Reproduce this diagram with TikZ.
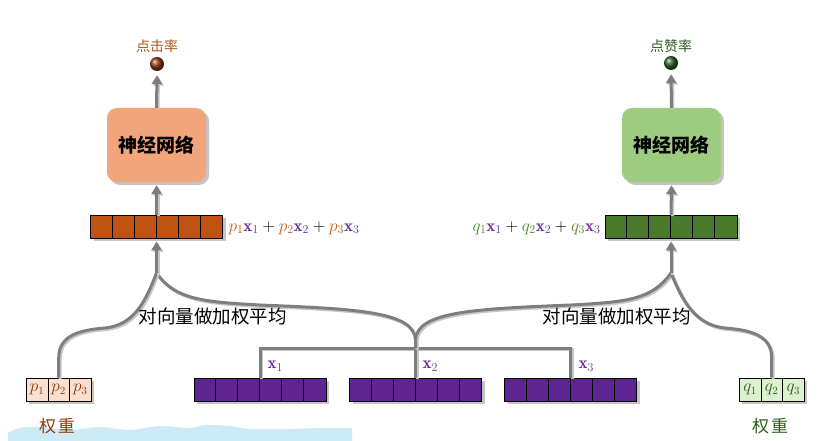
\documentclass[tikz,border=0pt]{standalone}
\usepackage{fontspec}
\newfontfamily\cjk{Noto Sans CJK SC}
\usetikzlibrary{arrows.meta,shadows,calc}
\definecolor{linegray}{HTML}{7E7E7E}
\definecolor{nnorange}{HTML}{F2A57A}
\definecolor{nngreen}{HTML}{9DCB80}
\definecolor{vorange}{HTML}{BF5310}
\definecolor{vgreen}{HTML}{4A7A2C}
\definecolor{vpurple}{HTML}{5E2590}
\definecolor{pcol}{HTML}{C0600F}
\definecolor{qcol}{HTML}{4E8A2E}
\definecolor{xcol}{HTML}{6A2A9A}
\definecolor{brownt}{HTML}{8B3A0E}
\definecolor{brownl}{HTML}{B0561A}
\definecolor{greent}{HTML}{2E5E1E}
\definecolor{pfill}{HTML}{FBE0D0}
\definecolor{qfill}{HTML}{DDF0D0}
\definecolor{cloud}{HTML}{CDEBF7}
\tikzset{
  gline/.style={draw=linegray, line width=3pt,
    preaction={draw=black!22, line width=3pt, transform canvas={shift={(1.5pt,-1.5pt)}}}},
  garrow/.style={gline, -{Triangle[length=9pt,width=10pt]}},
  shd/.style={drop shadow={shadow xshift=3pt,shadow yshift=-3pt,opacity=0.45}},
  nnbox/.style={shd, rounded corners=10pt, minimum width=99pt, minimum height=74pt,
    inner sep=0pt, font=\cjk\bfseries\fontsize{19}{21}\selectfont},
  vecbox/.style={shd, draw=black, line width=0.8pt, minimum width=132pt,
    minimum height=23pt, inner sep=0pt},
  wcell/.style={shd, draw=black, line width=0.6pt, minimum width=21.7pt,
    minimum height=23pt, inner sep=0pt, font=\fontsize{16}{18}\selectfont},
  cjklab/.style={font=\cjk\fontsize{#1}{#1}\selectfont},
  mathlab/.style={font=\fontsize{17}{19}\selectfont},
  ball/.style={circle, minimum size=14pt, inner sep=0pt, shading=ball}
}
\begin{document}
\begin{tikzpicture}[x=1pt,y=-1pt]
\useasboundingbox[fill=white] (0,0) rectangle (832,441);
% cloud
\fill[cloud] plot[smooth] coordinates {(8,433) (20,428) (40,427) (70,430) (100,427) (130,430) (160,426) (190,428) (205,425) (230,426) (250,429) (290,429) (320,428) (352,428)} -- (352,441) -- (8,441) -- cycle;

% top balls and labels
\node[ball, ball color=brownt] (c1) at (157,64) {};
\node[ball, ball color=greent] (c2) at (671,63) {};
\node[cjklab=14, text=brownl] (l1) at (157,46) {点击率};
\node[cjklab=14, text=greent] (l2) at (671,46) {点赞率};

% neural networks
\node[nnbox, fill=nnorange] (nn1) at (156.5,145) {神经网络};
\node[nnbox, fill=nngreen] (nn2) at (671.5,145) {神经网络};

% result vectors
\node[vecbox, fill=vorange] (v1) at (156.5,226.5) {};
\node[vecbox, fill=vgreen] (v2) at (671,226.5) {};
\node[anchor=west, mathlab] (f1) at (225,228)
  {$\textcolor{pcol}{p_1}\textcolor{xcol}{\mathbf{x}_1}+\textcolor{pcol}{p_2}\textcolor{xcol}{\mathbf{x}_2}+\textcolor{pcol}{p_3}\textcolor{xcol}{\mathbf{x}_3}$};
\node[anchor=east, mathlab] (f2) at (604,228)
  {$\textcolor{qcol}{q_1}\textcolor{xcol}{\mathbf{x}_1}+\textcolor{qcol}{q_2}\textcolor{xcol}{\mathbf{x}_2}+\textcolor{qcol}{q_3}\textcolor{xcol}{\mathbf{x}_3}$};

% input vectors
\node[vecbox, fill=vpurple] (vx1) at (260,389.5) {};
\node[vecbox, fill=vpurple] (vx2) at (415.5,389.5) {};
\node[vecbox, fill=vpurple] (vx3) at (570.5,389.5) {};
\foreach \v in {v1,v2,vx1,vx2,vx3}{
  \foreach \i in {1,...,5}{
    \draw[black, line width=0.8pt] ($(\v.north west)+(\i*22,0)$) -- ($(\v.south west)+(\i*22,0)$);
  }
}
\node[anchor=west, text=xcol, mathlab] (lx1) at (264,366) {$\mathbf{x}_1$};
\node[anchor=west, text=xcol, mathlab] (lx2) at (419,366) {$\mathbf{x}_2$};
\node[anchor=west, text=xcol, mathlab] (lx3) at (575,366) {$\mathbf{x}_3$};

% weights
\node[wcell, fill=pfill, text=brownt] (p1) at (37,389.5) {$p_1$};
\node[wcell, fill=pfill, text=brownt] (p2) at (58.7,389.5) {$p_2$};
\node[wcell, fill=pfill, text=brownt] (p3) at (80.4,389.5) {$p_3$};
\node[wcell, fill=qfill, text=greent] (q1) at (750,389.5) {$q_1$};
\node[wcell, fill=qfill, text=greent] (q2) at (771.7,389.5) {$q_2$};
\node[wcell, fill=qfill, text=greent] (q3) at (793.4,389.5) {$q_3$};
\node[cjklab=17, text=brownt] (w1) at (57,426) {权\hspace{2pt}重};
\node[cjklab=17, text=greent] (w2) at (770,426) {权\hspace{2pt}重};

% junctions
\coordinate (j1) at (156.5,273);
\coordinate (j2) at (671,273);
\coordinate (m) at (415.5,348);

% connectors
\draw[gline] (vx1.north) |- (m) -| (vx3.north);
\draw[gline] (vx2.north) -- (m);
\draw[gline] (m) -- (415.5,340) .. controls (414,312) and (360,309) .. (260,305) .. controls (205,302) and (175,300) .. (j1);
\draw[gline] (m) -- (415.5,340) .. controls (417,312) and (471,309) .. (571,305) .. controls (626,302) and (652,300) .. (j2);
\draw[gline] (p2.north) -- (58.7,358) .. controls (58.7,335) and (80,330) .. (105,328) .. controls (135,325) and (146,300) .. (j1);
\draw[gline] (q2.north) -- (771.7,358) .. controls (771.7,335) and (750,330) .. (725,328) .. controls (695,325) and (682,300) .. (j2);

\draw[garrow] (j1) -- ($(v1.south)+(0,3)$);
\draw[garrow] (j2) -- ($(v2.south)+(0,3)$);
\draw[garrow] (v1.north) -- ($(nn1.south)+(0,3)$);
\draw[garrow] (v2.north) -- ($(nn2.south)+(0,3)$);
\draw[garrow] (nn1.north) -- ($(c1.south)+(0,4)$);
\draw[garrow] (nn2.north) -- ($(c2.south)+(0,4)$);

\node[cjklab=18.5, anchor=west] (t1) at (135,316) {对向量做加权平均};
\node[cjklab=18.5, anchor=west] (t2) at (539,316) {对向量做加权平均};
\end{tikzpicture}
\end{document}
